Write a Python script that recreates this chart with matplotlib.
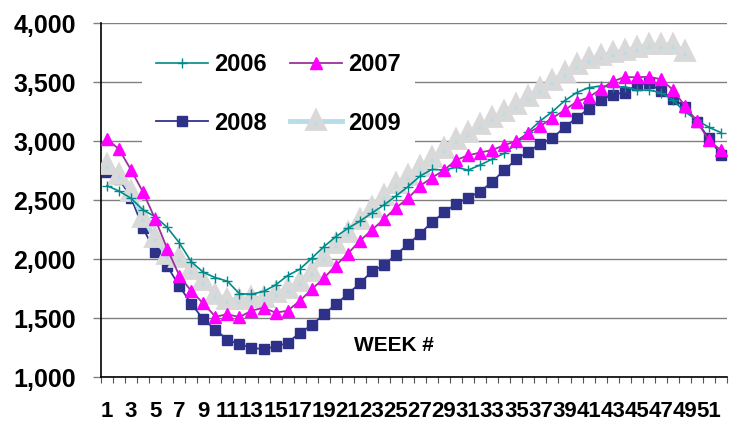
import numpy as np
import matplotlib.pyplot as plt
from matplotlib.ticker import FuncFormatter

plt.rcParams['font.family'] = ['Liberation Sans', 'DejaVu Sans']
plt.rcParams['font.weight'] = 'bold'

# weekly values
weeks = np.arange(1, 53)

y2006 = [2621, 2576, 2514, 2415, 2359, 2268, 2138, 1977, 1887, 1842,
         1812, 1706, 1702, 1725, 1780, 1860, 1913, 2006, 2104, 2189,
         2260, 2320, 2390, 2458, 2534, 2613, 2703, 2760, 2754, 2777,
         2754, 2797, 2847, 2896, 2975, 3079, 3172, 3249, 3340, 3410,
         3452, 3466, 3460, 3460, 3432, 3432, 3410, 3347, 3248, 3178,
         3116, 3071]

y2007 = [3017, 2930, 2754, 2565, 2339, 2088, 1860, 1727, 1624, 1511,
         1532, 1508, 1562, 1587, 1545, 1562, 1644, 1743, 1836, 1945,
         2045, 2154, 2246, 2338, 2434, 2514, 2620, 2690, 2754, 2839,
         2879, 2902, 2924, 2965, 3000, 3068, 3127, 3196, 3260, 3333,
         3370, 3438, 3505, 3542, 3540, 3545, 3523, 3435, 3297, 3168,
         3005, 2921]

y2008 = [2740, 2680, 2520, 2260, 2060, 1941, 1771, 1621, 1489, 1401,
         1316, 1277, 1249, 1235, 1260, 1288, 1375, 1438, 1531, 1616,
         1703, 1794, 1895, 1946, 2037, 2124, 2215, 2312, 2395, 2468,
         2521, 2570, 2655, 2754, 2845, 2909, 2978, 3023, 3118, 3195,
         3273, 3345, 3394, 3410, 3475, 3491, 3424, 3359, 3291, 3164,
         3023, 2881]

# 2009 only runs to week 49
y2009 = [2800, 2712, 2570, 2350, 2175, 2034, 2006, 1907, 1814, 1695,
         1653, 1653, 1667, 1667, 1709, 1743, 1808, 1893, 2020, 2130,
         2218, 2331, 2430, 2534, 2633, 2703, 2782, 2853, 2930, 3008,
         3065, 3136, 3192, 3249, 3305, 3376, 3440, 3510, 3574, 3644,
         3692, 3720, 3743, 3766, 3785, 3813, 3813, 3813, 3757]

fig = plt.figure(figsize=(7.34, 4.23), dpi=100)
ax = fig.add_axes([0.1376, 0.1087, 0.8529, 0.8369])

l06, = ax.plot(weeks, y2006, color='#008b8b', lw=1.2, marker='+', ms=7,
               mew=1.0, zorder=4, label='2006')
l07, = ax.plot(weeks, y2007, color='#993399', lw=1.3, marker='^', ms=8,
               mfc='#ff00ff', mec='#ff00ff', zorder=5, label='2007')
l08, = ax.plot(weeks, y2008, color='#333399', lw=1.3, marker='s', ms=6.5,
               mfc='#2e3188', mec='#2e3188', zorder=2, label='2008')
l09, = ax.plot(weeks[:len(y2009)], y2009, color='#b7dee8', lw=3.5, marker='^',
               ms=10.5, mfc='#b7dee8', mec='#d9d9d9', mew=4.2, zorder=3, label='2009')

ax.set_xlim(0.5, 52.5)
ax.set_ylim(1000, 4000)

# y axis: gridlines + outward ticks
ax.set_yticks(np.arange(1000, 4001, 500))
ax.yaxis.set_major_formatter(FuncFormatter(lambda v, p: f'{int(v):,}'))
ax.grid(axis='y', color='#808080', lw=1.0)
ax.set_axisbelow(True)
ax.tick_params(axis='y', direction='out', length=6, width=1, color='#808080',
               pad=12, labelsize=18)

# x axis: ticks between categories, labels on every second week
ax.set_xticks(np.arange(0.5, 53, 1))
ax.set_xticklabels([])
ax.set_xticks(weeks[::2], minor=True)
ax.set_xticklabels([str(w) for w in weeks[::2]], minor=True)
ax.tick_params(axis='x', which='major', direction='out', length=4, width=0.8,
               color='#555555')
ax.tick_params(axis='x', which='minor', length=0, pad=17.5, labelsize=16)

for s in ['top', 'right']:
    ax.spines[s].set_visible(False)
ax.spines['left'].set_linewidth(1.2)
ax.spines['bottom'].set_linewidth(1.2)

ax.text(0.468, 0.09, 'WEEK #', transform=ax.transAxes, ha='center', va='center',
        fontsize=15, fontweight='bold')

leg = ax.legend([l06, l08, l07, l09], ['2006', '2008', '2007', '2009'],
                ncol=2, loc='center', bbox_to_anchor=(0.283, 0.80),
                fontsize=17, frameon=True, framealpha=1, facecolor='white',
                edgecolor='none', fancybox=False, handlelength=2.2,
                handletextpad=0.25, columnspacing=1.0, labelspacing=1.5,
                borderpad=0.6)

fig.savefig('out.png', dpi=100)
